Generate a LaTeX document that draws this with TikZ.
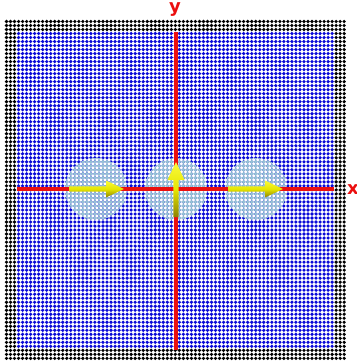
\documentclass[tikz,border=0pt]{standalone}
\usepackage{fontspec}
\setsansfont{DejaVu Sans}
\definecolor{axisred}{RGB}{235,15,15}
\definecolor{dotblue}{RGB}{10,10,215}
\definecolor{spotcyan}{RGB}{150,195,212}
\definecolor{arrowlight}{RGB}{250,250,60}
\definecolor{arrowdark}{RGB}{140,130,0}
\tikzset{
  axis/.style={draw=axisred, line width=3.5pt},
  axislabel/.style={text=axisred, font=\sffamily\bfseries\fontsize{18}{18}\selectfont, inner sep=0pt},
  yarrow/.pic={
    \shade[top color=arrowlight, bottom color=arrowdark, middle color=yellow!90!black]
      (0,-2.6) -- (37,-2.6) -- (37,-8.5) -- (55,0) -- (37,8.5) -- (37,2.6) -- (0,2.6) -- cycle;
  }
}
\newcommand{\sx}{4.02}
\newcommand{\sy}{4.01}
\begin{document}
\begin{tikzpicture}[x=1pt, y=-1pt]
  \useasboundingbox (0,0) rectangle (356,364);
  \fill[white] (0,0) rectangle (356,364);

  % dot lattice: black frame, blue inside
  \foreach \j in {0,1,2,82,83,84}{
    \fill[black] \foreach \i in {0,...,84}{(6.5+\sx*\i, 21.5+\sy*\j) circle (1.8)};
  }
  \foreach \j in {3,...,81}{
    \fill[black] \foreach \i in {0,1,2,82,83,84}{(6.5+\sx*\i, 21.5+\sy*\j) circle (1.8)};
    \fill[dotblue] \foreach \i in {3,...,81}{(6.5+\sx*\i, 21.5+\sy*\j) circle (1.8)};
  }

  % three spots
  \coordinate (s1) at (96,189);
  \coordinate (s2) at (176,189);
  \coordinate (s3) at (256,189);
  \begin{scope}
    \clip (s1) circle (31) (s2) circle (31) (s3) circle (31);
    \foreach \j in {33,...,51}{
      \fill[spotcyan] \foreach \i in {13,...,72}{(6.5+\sx*\i, 21.5+\sy*\j) circle (1.9)};
    }
  \end{scope}

  % axes
  \coordinate (ytop) at (176,32);
  \coordinate (ybot) at (176,350);
  \coordinate (xl) at (17,189);
  \coordinate (xr) at (334,189);
  \draw[axis] (xl) -- (xr);
  \draw[axis] (ybot) -- (ytop);
  \node[axislabel] (ylab) at (175,10) {y};
  \node[axislabel, anchor=west] (xlab) at (347,190) {x};

  % moments
  \pic at (69,189) {yarrow};
  \pic[rotate=90] at (176,217) {yarrow};
  \pic at (228,189) {yarrow};
\end{tikzpicture}
\end{document}
